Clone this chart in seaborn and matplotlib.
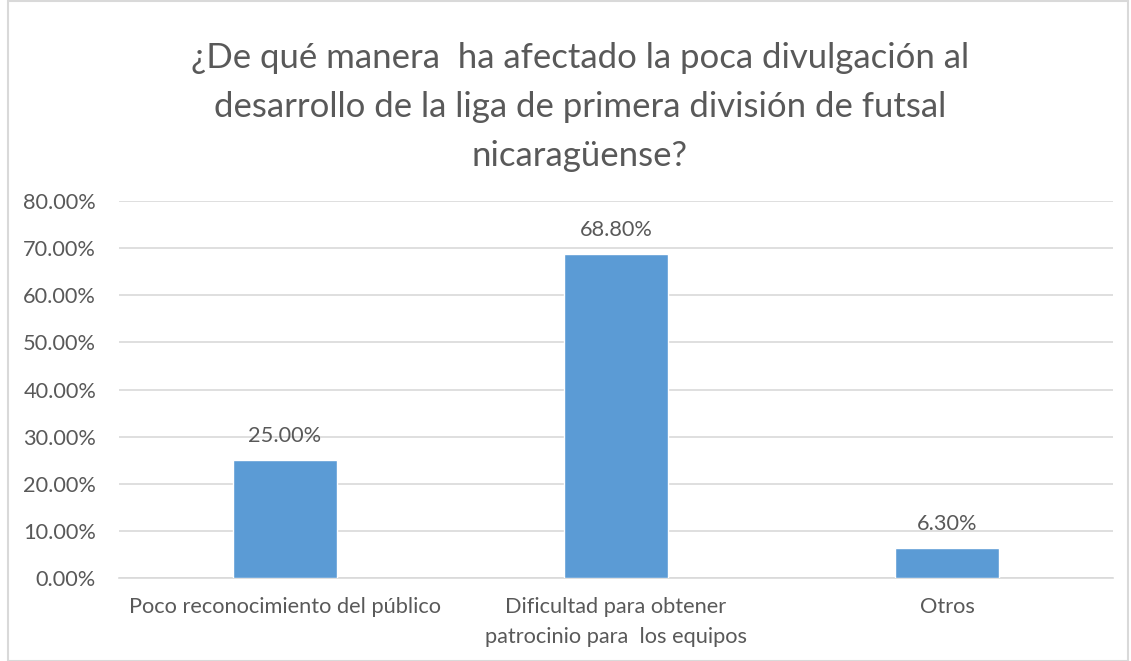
import matplotlib
matplotlib.use("Agg")
import matplotlib.pyplot as plt
import seaborn as sns
import pandas as pd
from matplotlib.patches import Rectangle

categories = ["Poco reconocimiento del público",
              "Dificultad para obtener\npatrocinio para  los equipos",
              "Otros"]
values = [25.0, 68.8, 6.3]
value_labels = ["25.00%", "68.80%", "6.30%"]
yticks = [0, 10, 20, 30, 40, 50, 60, 70, 80]
ytick_labels = [f"{v:.2f}%" for v in yticks]
title = "¿De qué manera  ha afectado la poca divulgación al\ndesarrollo de la liga de primera división de futsal\nnicaragüense?"

sns.set_theme(style="white")
plt.rcParams['font.family'] = ['Lato', 'DejaVu Sans']

W, H = 1131, 661
fig = plt.figure(figsize=(W / 100, H / 100), dpi=100)
ax = fig.add_axes([119 / W, 1 - 578 / H, (1113 - 119) / W, (578 - 201) / H])

df = pd.DataFrame({"cat": categories, "val": values})
sns.barplot(data=df, x="cat", y="val", color="#5B9BD5", saturation=1,
            width=0.314, ax=ax, zorder=3)

text_color = "#595959"
fs = 15.7
ax.set_ylim(0, 80)
ax.set_xlim(-0.5, 2.5)
ax.set_yticks(yticks)
ax.set_yticklabels(ytick_labels, fontsize=fs, color=text_color)
ax.tick_params(axis="y", length=0, pad=16.5)
ax.tick_params(axis="x", length=0, pad=14, labelsize=fs, labelcolor=text_color)
for t in ax.get_xticklabels():
    t.set_linespacing(1.6)
ax.set_xlabel("")
ax.set_ylabel("")
ax.grid(axis="y", color="#D9D9D9", linewidth=1.2, zorder=0)
ax.grid(axis="x", visible=False)
for s in ["top", "right", "left"]:
    ax.spines[s].set_visible(False)
ax.spines["bottom"].set_color("#D9D9D9")
ax.spines["bottom"].set_linewidth(1.2)
ax.set_axisbelow(True)

for i, (v, lab) in enumerate(zip(values, value_labels)):
    ax.annotate(lab, (i, v), xytext=(0, 10), textcoords="offset points",
                ha="center", va="bottom", fontsize=fs, color=text_color)

fig.text(580 / W, 1 - 107 / H, title, ha="center", va="center",
         fontsize=25, color=text_color, linespacing=1.66)

fig.patches.append(Rectangle((8 / W, 0), (1128 - 8) / W, 1 - 1 / H,
                             transform=fig.transFigure, fill=False,
                             edgecolor="#D9D9D9", linewidth=1.5))

fig.savefig("out.png", dpi=100, facecolor="white")
